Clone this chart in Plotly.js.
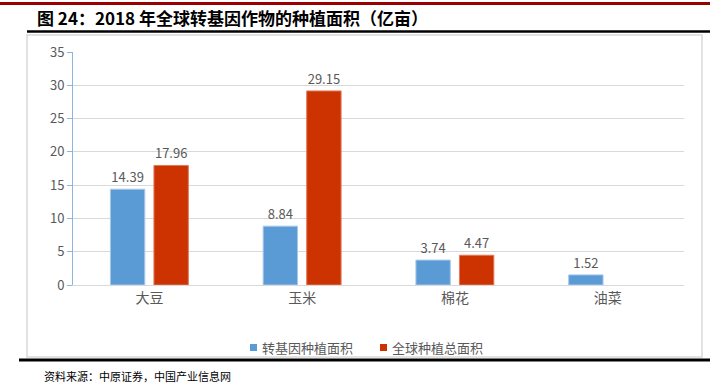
<!DOCTYPE html>
<html>
<head>
<meta charset="utf-8">
<script src="https://cdn.plot.ly/plotly-3.0.1.min.js"></script>
<style>html,body{margin:0;padding:0;background:#fff;}#chart{width:710px;height:391px;}</style>
</head>
<body>
<div id="chart"></div>
<script>
const categories = ['大豆', '玉米', '棉花', '油菜'];
const gmArea = [14.39, 8.84, 3.74, 1.52];
const totalArea = [17.96, 29.15, 4.47, null];
const seriesNames = ['转基因种植面积', '全球种植总面积'];
const seriesColors = ['#5b9bd5', '#cc3300'];
const yTicks = [0, 5, 10, 15, 20, 25, 30, 35];

const L = 73, R = 684, T = 52, B = 285;
const W = 710, H = 391;
const px = x => (x - L) / (R - L);
const py = y => (B - y) / (B - T);
const font = '"Noto Sans CJK SC", "Noto Sans", sans-serif';

const fmt = v => v == null ? '' : v.toFixed(2);

const traces = [
  {type: 'bar', x: categories, y: gmArea, name: seriesNames[0],
   marker: {color: seriesColors[0], line: {color: '#a9c9ea', width: 1}},
   text: gmArea.map(fmt), textposition: 'outside', cliponaxis: false,
   textfont: {color: '#595959', size: 13, family: font}, hoverinfo: 'x+y'},
  {type: 'bar', x: categories, y: totalArea, name: seriesNames[1],
   marker: {color: seriesColors[1], line: {color: '#e27a5a', width: 1}},
   text: totalArea.map(fmt), textposition: 'outside', cliponaxis: false,
   textfont: {color: '#595959', size: 13, family: font}, hoverinfo: 'x+y'}
];

// custom compact legend (matches reference spacing)
const legendItems = [
  {sx: 250, tx: 260, name: seriesNames[0], color: seriesColors[0]},
  {sx: 380, tx: 390, name: seriesNames[1], color: seriesColors[1]}
];
const legendShapes = legendItems.map(it => ({
  type: 'rect', xref: 'paper', yref: 'paper', x0: px(it.sx), x1: px(it.sx + 7), y0: py(351), y1: py(344),
  fillcolor: it.color, line: {width: 0}
}));
const legendAnn = legendItems.map(it => ({
  xref: 'paper', yref: 'paper', x: px(it.tx), y: py(347.5), xanchor: 'left', yanchor: 'middle',
  text: it.name, showarrow: false, font: {size: 13, color: '#595959', family: font}
}));

const layout = {
  width: W, height: H,
  margin: {l: L, r: W - R, t: T, b: H - B},
  paper_bgcolor: '#fff', plot_bgcolor: '#fff',
  barmode: 'group', bargap: 0.43, bargroupgap: 0.21,
  font: {family: font, color: '#595959', size: 12},
  showlegend: false,
  xaxis: {showgrid: false, showline: true, linecolor: '#d9d9d9', linewidth: 1,
          ticks: '', tickfont: {size: 14, color: '#595959'}, fixedrange: true},
  yaxis: {range: [0, 35], tickvals: yTicks, showgrid: true, gridcolor: '#d9d9d9', gridwidth: 1,
          showline: true, linecolor: '#8eb4e3', linewidth: 1, ticks: 'outside', ticklen: 5,
          tickcolor: '#8eb4e3', tickfont: {size: 13, color: '#595959'}, zeroline: false, fixedrange: true},
  shapes: [
    {type: 'line', xref: 'paper', yref: 'paper', x0: px(0), x1: px(710), y0: py(3.5), y1: py(3.5),
     line: {color: '#990000', width: 3}},
    {type: 'line', xref: 'paper', yref: 'paper', x0: px(27), x1: px(710), y0: py(31.5), y1: py(31.5),
     line: {color: '#000', width: 2.5}},
    {type: 'rect', xref: 'paper', yref: 'paper', x0: px(27), x1: px(702), y0: py(35), y1: py(357),
     line: {color: '#d9d9d9', width: 1.5}},
    {type: 'line', xref: 'paper', yref: 'paper', x0: px(19), x1: px(710), y0: py(360), y1: py(360),
     line: {color: '#000', width: 3}}
  ].concat(legendShapes),
  annotations: [
    {xref: 'paper', yref: 'paper', x: px(35), y: py(18), xanchor: 'left', yanchor: 'middle',
     text: '<b>图 24：2018 年全球转基因作物的种植面积（亿亩）</b>', showarrow: false,
     font: {size: 17, color: '#000', family: font}},
    {xref: 'paper', yref: 'paper', x: px(42), y: py(376), xanchor: 'left', yanchor: 'middle',
     text: '资料来源：中原证券，中国产业信息网', showarrow: false,
     font: {size: 11, color: '#000', family: font}}
  ].concat(legendAnn)
};

Plotly.newPlot('chart', traces, layout, {displayModeBar: false, staticPlot: true});
</script>
</body>
</html>
